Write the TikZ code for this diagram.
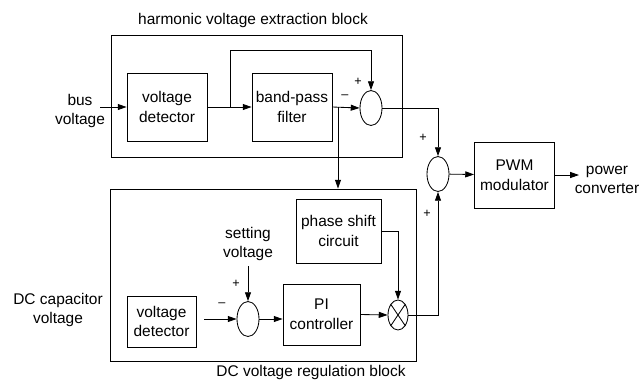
\documentclass[tikz,border=0pt]{standalone}
\usepackage{fontspec}
\setmainfont{Liberation Sans}
\usetikzlibrary{positioning, arrows.meta, shapes.geometric, calc}

\begin{document}
\begin{tikzpicture}[x=0.025cm, y=-0.025cm, line width=0.6pt,
  font=\fontsize{11}{14}\selectfont,
  blk/.style={rectangle, draw, align=center, inner sep=1pt},
  sumnode/.style={ellipse, draw, minimum width=0.55cm, minimum height=0.875cm, inner sep=0pt},
  sgn/.style={font=\fontsize{9}{10}\selectfont, inner sep=0pt},
  arr/.style={-{Triangle[length=2.2mm, width=1.5mm]}}]
\useasboundingbox (0,0) rectangle (641,383);

% harmonic voltage extraction block
\node [rectangle, draw, minimum width=7.275cm, minimum height=3.05cm] (hblock) at (256.5,96) {};
\node (htitle) at (253,20) {harmonic voltage extraction block};
\node [blk, minimum width=2cm, minimum height=1.7cm] (det1) at (167,107) {voltage\\detector};
\node [blk, minimum width=2cm, minimum height=1.7cm] (bpf) at (292,107) {band-pass\\filter};
\node [sumnode] (sum1) at (371,108) {};
\node [align=center] (bus) at (80,111) {bus\\voltage};
\coordinate (busin) at (100,107);
\coordinate (split1) at (230,107);
\coordinate (split2) at (338,107);
\node [sgn] (p1) at (358,82) {+};
\node [sgn] (m1) at (345,97) {--};

% output summer and modulator
\node [sumnode] (sum2) at (438,174) {};
\node [blk, minimum width=2cm, minimum height=1.65cm] (pwm) at (514.5,175) {PWM\\modulator};
\node [align=center] (conv) at (607,180) {power\\converter};
\coordinate (pwmout) at (579,175);
\node [sgn] (p2) at (423,138) {+};
\node [sgn] (p3) at (427,214) {+};

% DC voltage regulation block
\node [rectangle, draw, minimum width=7.65cm, minimum height=4.3cm] (lblock) at (263,275) {};
\node (ltitle) at (311,372) {DC voltage regulation block};
\node [blk, minimum width=2.125cm, minimum height=1.6cm] (phase) at (338.5,231) {phase shift\\circuit};
\node [align=center] (setv) at (248,244) {setting\\voltage};
\node [sumnode] (sum3) at (248,319) {};
\node [blk, minimum width=1.725cm, minimum height=1.275cm] (det2) at (161.5,321.5) {voltage\\detector};
\node [align=center] (dccap) at (58,310) {DC capacitor\\voltage};
\node [blk, minimum width=1.925cm, minimum height=1.525cm] (pi) at (321.5,314.5) {PI\\controller};
\node [ellipse, draw, minimum width=0.5cm, minimum height=0.75cm, inner sep=0pt] (mult) at (398,315) {};
\draw (mult.north west) -- (mult.south east);
\draw (mult.north east) -- (mult.south west);
\node [sgn] (p4) at (236,284) {+};
\node [sgn] (m2) at (222,305) {--};

\draw [arr] (busin) -- (det1);
\draw [arr] (det1) -- (bpf);
\draw [arr] (split1) -- ++(0,-57) -| (sum1.north);
\draw [arr] (bpf.east) -- (sum1.west);
\draw [arr] (split2) -- (split2 |- lblock.north);
\draw [arr] (sum1.east) -| (sum2.north);
\draw [arr] (sum2) -- (pwm);
\draw [arr] (pwm) -- (pwmout);

\draw [arr] (setv.south) -- (sum3.north);
\draw [arr, shorten <=0.2cm] (det2.east |- sum3) -- (sum3.west);
\draw [arr] (sum3.east) -- (sum3.east -| pi.west);
\draw [arr] (pi.east) -- (mult.west);
\draw [arr] (phase.east) -| (mult.north);
\draw [arr] (mult.east) -| (sum2.south);

\end{tikzpicture}
\end{document}
